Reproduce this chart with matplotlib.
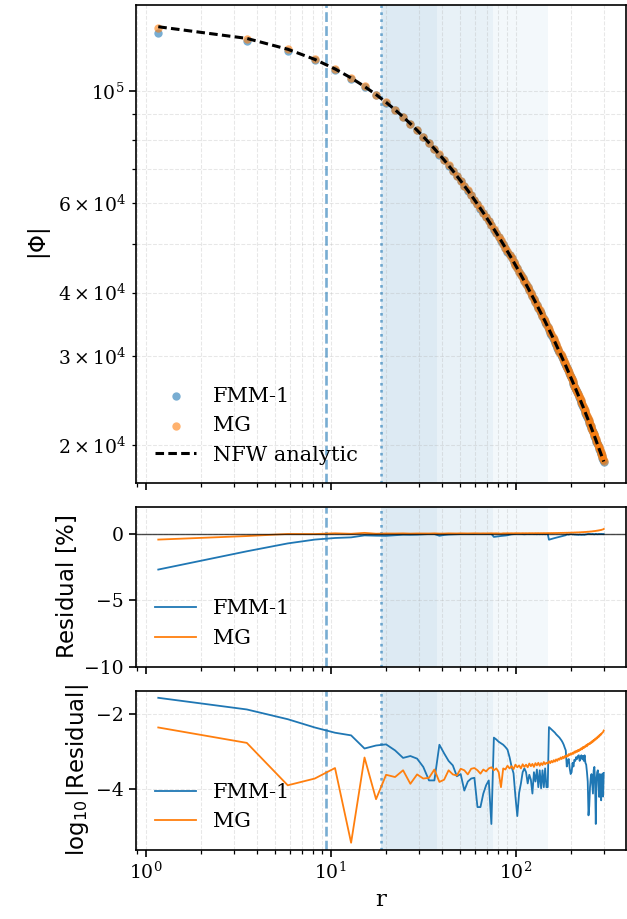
import numpy as np
import matplotlib
matplotlib.use("Agg")
import matplotlib.pyplot as plt
from matplotlib.ticker import MultipleLocator

# cell-centred radii of the profile
r = [1.17, 3.52, 5.86, 8.20, 10.55, 12.89, 15.23, 17.58, 19.92, 22.27,
     24.61, 26.95, 29.30, 31.64, 33.98, 36.33, 38.67, 41.02, 43.36, 45.70,
     48.05, 50.39, 52.73, 55.08, 57.42, 59.77, 62.11, 64.45, 66.80, 69.14,
     71.48, 73.83, 76.17, 78.52, 80.86, 83.20, 85.55, 87.89, 90.23, 92.58,
     94.92, 97.27, 99.61, 101.95, 104.30, 106.64, 108.98, 111.33, 113.67, 116.02,
     118.36, 120.70, 123.05, 125.39, 127.73, 130.08, 132.42, 134.77, 137.11, 139.45,
     141.80, 144.14, 146.48, 148.83, 151.17, 153.52, 155.86, 158.20, 160.55, 162.89,
     165.23, 167.58, 169.92, 172.27, 174.61, 176.95, 179.30, 181.64, 183.98, 186.33,
     188.67, 191.02, 193.36, 195.70, 198.05, 200.39, 202.73, 205.08, 207.42, 209.77,
     212.11, 214.45, 216.80, 219.14, 221.48, 223.83, 226.17, 228.52, 230.86, 233.20,
     235.55, 237.89, 240.23, 242.58, 244.92, 247.27, 249.61, 251.95, 254.30, 256.64,
     258.98, 261.33, 263.67, 266.02, 268.36, 270.70, 273.05, 275.39, 277.73, 280.08,
     282.42, 284.77, 287.11, 289.45, 291.80, 294.14, 296.48, 298.83]

# |Phi| of the NFW analytic curve, in units of 1e3
phi_nfw_k = [133.89, 126.98, 120.88, 115.44, 110.54, 106.10, 102.07, 98.38, 94.97, 91.82,
             88.90, 86.18, 83.64, 81.27, 79.03, 76.93, 74.94, 73.07, 71.29, 69.60,
             68.00, 66.47, 65.01, 63.62, 62.29, 61.01, 59.79, 58.62, 57.50, 56.42,
             55.37, 54.37, 53.41, 52.47, 51.57, 50.70, 49.86, 49.04, 48.26, 47.49,
             46.75, 46.03, 45.34, 44.66, 44.00, 43.36, 42.74, 42.13, 41.55, 40.97,
             40.41, 39.87, 39.34, 38.82, 38.32, 37.82, 37.34, 36.87, 36.41, 35.96,
             35.52, 35.09, 34.67, 34.26, 33.86, 33.46, 33.07, 32.70, 32.32, 31.96,
             31.61, 31.25, 30.91, 30.58, 30.25, 29.92, 29.60, 29.29, 28.99, 28.69,
             28.39, 28.10, 27.81, 27.53, 27.26, 26.98, 26.72, 26.46, 26.20, 25.94,
             25.69, 25.45, 25.20, 24.97, 24.73, 24.50, 24.27, 24.05, 23.83, 23.61,
             23.39, 23.18, 22.97, 22.77, 22.57, 22.36, 22.17, 21.97, 21.78, 21.59,
             21.41, 21.22, 21.04, 20.86, 20.68, 20.51, 20.34, 20.17, 20.00, 19.83,
             19.67, 19.50, 19.34, 19.19, 19.03, 18.88, 18.72, 18.57]

# log10 |relative residual|
fmm_log = [-1.57, -1.88, -2.14, -2.36, -2.50, -2.57, -2.92, -2.84, -2.81, -2.97,
           -3.17, -3.12, -3.19, -3.41, -3.77, -3.77, -2.82, -3.05, -3.25, -3.37,
           -3.66, -3.60, -4.04, -3.80, -3.72, -3.70, -4.48, -4.48, -4.12, -3.90,
           -3.77, -4.93, -2.63, -2.68, -2.74, -2.78, -2.82, -2.88, -2.95, -3.15,
           -3.40, -3.58, -4.20, -4.72, -4.10, -3.85, -3.55, -3.45, -3.55, -3.85,
           -3.62, -3.75, -4.12, -3.55, -3.80, -3.48, -3.95, -3.50, -3.98, -3.50,
           -3.95, -3.45, -3.95, -3.95, -2.35, -2.38, -2.41, -2.44, -2.47, -2.50,
           -2.54, -2.57, -2.60, -2.63, -2.67, -2.71, -2.76, -2.82, -2.90, -2.97,
           -3.40, -3.25, -3.20, -3.45, -3.60, -3.55, -3.30, -3.40, -3.22, -3.25,
           -3.15, -3.20, -3.12, -3.10, -3.25, -3.18, -3.10, -3.20, -3.12, -3.25,
           -3.10, -3.30, -3.35, -3.55, -3.80, -4.70, -4.45, -3.95, -3.70, -3.60,
           -3.85, -4.12, -3.50, -3.41, -3.80, -4.93, -3.77, -3.55, -3.50, -3.90,
           -4.21, -3.60, -3.77, -4.30, -3.70, -3.59, -4.20, -3.57]
mg_log = [-2.36, -2.77, -3.90, -3.72, -3.44, -5.43, -3.16, -4.27, -3.62, -3.68,
          -3.50, -3.86, -3.61, -3.72, -3.70, -3.48, -3.81, -3.75, -3.50, -3.61,
          -3.64, -3.46, -3.50, -3.61, -3.46, -3.44, -3.50, -3.59, -3.48, -3.53,
          -3.45, -3.42, -3.50, -3.45, -3.55, -3.95, -3.45, -3.48, -3.38, -3.45,
          -3.39, -3.47, -3.35, -3.42, -3.37, -3.45, -3.34, -3.41, -3.35, -3.42,
          -3.32, -3.39, -3.33, -3.41, -3.31, -3.37, -3.30, -3.38, -3.31, -3.36,
          -3.28, -3.34, -3.30, -3.32, -3.26, -3.31, -3.25, -3.29, -3.23, -3.27,
          -3.21, -3.25, -3.19, -3.22, -3.16, -3.20, -3.14, -3.18, -3.12, -3.15,
          -3.10, -3.13, -3.07, -3.10, -3.05, -3.08, -3.03, -3.06, -3.00, -3.03,
          -2.98, -3.01, -2.96, -2.99, -2.94, -2.96, -2.91, -2.94, -2.88, -2.91,
          -2.86, -2.88, -2.83, -2.86, -2.80, -2.82, -2.78, -2.80, -2.75, -2.77,
          -2.72, -2.74, -2.69, -2.71, -2.66, -2.68, -2.63, -2.65, -2.60, -2.62,
          -2.57, -2.58, -2.54, -2.55, -2.51, -2.50, -2.48, -2.44]

rs = 9.375
names = ["FMM-1", "MG"]

plt.rcParams.update({
    "font.family": "serif",
    "axes.linewidth": 1.2,
    "xtick.major.size": 5.2, "ytick.major.size": 5.2,
    "xtick.major.width": 1.2, "ytick.major.width": 1.2,
    "xtick.minor.size": 3.0, "ytick.minor.size": 3.0,
    "xtick.minor.width": 0.9, "ytick.minor.width": 0.9,
    "xtick.labelsize": 13.5, "ytick.labelsize": 13.5,
    "axes.labelsize": 16.5, "legend.fontsize": 15,
})

r = np.array(r)
phi = np.array(phi_nfw_k) * 1e3
res_fmm = -10 ** np.array(fmm_log)
res_mg = np.where(r < 10, -1, 1) * 10 ** np.array(mg_log)

fig = plt.figure(figsize=(6.27, 9.19), dpi=100)
gs = fig.add_gridspec(3, 1, height_ratios=[3, 1, 1], left=136/627, right=626/627,
                      top=1-5/919, bottom=1-850/919, hspace=0.09)
ax0 = fig.add_subplot(gs[0])
ax1 = fig.add_subplot(gs[1], sharex=ax0)
ax2 = fig.add_subplot(gs[2], sharex=ax0)

for ax in (ax0, ax1, ax2):
    for k in (4, 8, 16):
        ax.axvspan(2*rs, k*rs, color="C0", alpha=0.05, lw=0, zorder=0)
    ax.axvline(rs, color="C0", ls="--", lw=1.9, alpha=0.6)
    ax.axvline(2*rs, color="C0", ls=":", lw=1.9, alpha=0.6)
    ax.grid(True, which="both", ls="--", lw=0.75, alpha=0.3)

ax0.set_xscale("log"); ax0.set_yscale("log")
ax0.scatter(r, phi*(1+res_fmm), s=36, color="C0", alpha=0.6, lw=0, label=names[0], zorder=3)
ax0.scatter(r, phi*(1+res_mg), s=36, color="C1", alpha=0.6, lw=0, label=names[1], zorder=3)
ax0.plot(r, phi, color="k", ls=(0, (2.8, 1.4)), lw=2.2, label="NFW analytic", zorder=4)
ax0.set_ylabel(r"$|\Phi|$")
ax0.legend(loc="lower left", frameon=False)

ax1.plot(r, res_fmm*100, color="C0", lw=1.3, label=names[0])
ax1.plot(r, res_mg*100, color="C1", lw=1.3, label=names[1])
ax1.axhline(0, color="k", lw=1.0, alpha=0.7)
ax1.set_ylim(-10, 2); ax1.set_yticks([-10, -5, 0])
ax1.set_ylabel(r"$\mathrm{Residual\ [\%]}$")
ax1.legend(loc="lower left", frameon=False)

ax2.plot(r, fmm_log, color="C0", lw=1.3, label=names[0])
ax2.plot(r, mg_log, color="C1", lw=1.3, label=names[1])
ax2.yaxis.set_major_locator(MultipleLocator(2))
ax2.set_ylabel(r"$\log_{10}|\mathrm{Residual}|$")
ax2.set_xlabel("r")
ax2.legend(loc="lower left", frameon=False)

for ax in (ax0, ax1):
    ax.tick_params(labelbottom=False)

fig.savefig("out.png", dpi=100)
